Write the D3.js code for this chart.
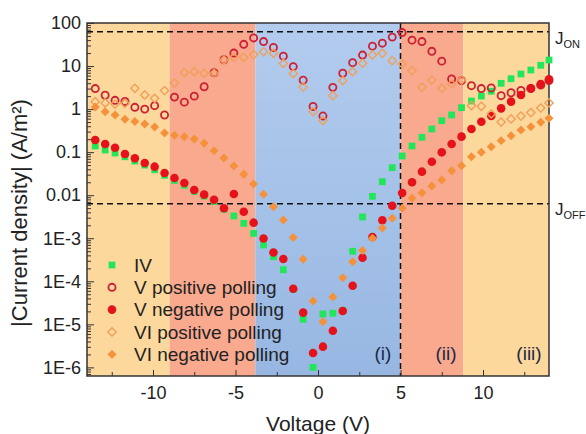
<!DOCTYPE html>
<html><head><meta charset="utf-8">
<script src="https://cdn.jsdelivr.net/npm/d3@7"></script>
<style>body{margin:0;background:#fff}svg{display:block;font-family:"Liberation Sans",Arial,sans-serif}</style>
</head><body><svg id="c" width="586" height="434"></svg>
<script>
const voltage = [-13.5,-12.9,-12.3,-11.7,-11.1,-10.5,-9.9,-9.3,-8.7,-8.1,-7.5,-6.9,-6.3,-5.7,-5.1,-4.5,-3.9,-3.3,-2.7,-2.1,-1.5,-0.9,-0.3,0.3,0.9,1.5,2.1,2.7,3.3,3.9,4.5,5.1,5.7,6.3,6.9,7.5,8.1,8.7,9.3,9.9,10.5,11.1,11.7,12.3,12.9,13.5,14.0];
const iv = [0.139,0.112,0.0955,0.078,0.0622,0.050,0.039,0.029,0.022,0.017,0.0122,0.0095,0.0072,0.0047,0.00329,0.00222,0.0013,0.000697,0.000372,0.000186,6.5e-5,1.31e-5,1.0e-6,1.74e-5,1.81e-5,2.1e-5,0.000498,0.00312,0.0094,0.0206,0.0436,0.0815,0.139,0.221,0.345,0.538,0.73,1.08,1.54,2.01,2.6,3.97,5.08,6.53,8.09,10.4,13.8];
const vPositive = [3.0,2.1,1.6,1.5,1.1,1.0,1.2,0.73,1.9,1.45,2.0,3.3,7.0,14,20,32,45,37,27,17,9.7,4.7,1.15,0.69,3.2,6.8,12,18,29,34,47,60,40,37,22,13,5.0,4.6,3.5,3.0,3.1,2.05,2.4,2.7,3.0,3.6,4.6];
const vNegative = [0.191,0.155,0.127,0.0905,0.072,0.056,0.046,0.0328,0.0251,0.0192,0.0132,0.0103,0.00786,0.00496,0.0107,0.00414,0.0023,0.00099,0.000467,0.00033,6.7e-5,1.87e-5,2.16e-6,3.03e-6,7.1e-6,2.04e-5,7.9e-5,3.53e-4,0.00107,0.00261,0.0057,0.01125,0.020,0.0352,0.060,0.099,0.155,0.229,0.345,0.51,0.69,1.04,1.49,2.13,3.04,3.83,4.92];
const viPositive = [1.49,1.39,1.31,1.36,3.04,2.13,1.78,2.70,4.04,7.0,7.4,6.8,6.8,13.8,16.0,16.0,18.5,21.5,19.8,11.5,6.7,3.26,0.87,0.54,2.05,4.57,7.4,11.6,18.1,19.8,13.3,11.2,7.8,3.2,4.74,3.04,3.83,4.74,1.21,1.16,0.77,0.50,0.59,0.69,0.83,1.06,1.39];
const viNegative = [1.12,0.87,0.73,0.58,0.515,0.45,0.384,0.279,0.246,0.229,0.202,0.161,0.108,0.0731,0.0477,0.0305,0.0182,0.0105,0.0054,0.00265,0.00104,0.000324,3.48e-5,1.15e-5,4.3e-5,0.000121,0.000285,0.000519,0.000997,0.00173,0.0029,0.00496,0.00848,0.0114,0.0164,0.0226,0.0371,0.0484,0.0783,0.099,0.134,0.185,0.241,0.327,0.39,0.493,0.61];
const seriesNames = ["IV","V positive polling","V negative polling","VI positive polling","VI negative polling"];
const xTicks = [-10,-5,0,5,10];
const yTickValues = [1e-6,1e-5,1e-4,1e-3,0.01,0.1,1,10,100];
const yTickLabels = ["1E-6","1E-5","1E-4","1E-3","0.01","0.1","1","10","100"];
const regionBounds = [-14,-9,-3.8,5,8.8,14];
const regionNames = ["(i)","(ii)","(iii)"];
const jOn = 63, jOff = 0.0063;

const svg = d3.select("#c");
const L=87,R=549,T=23,B=376;
const x = d3.scaleLinear().domain([-14,14]).range([L,R]);
const y = d3.scaleLog().domain([Math.pow(10,-6.2),100]).range([B,T]);

const defs = svg.append("defs");
const gb = defs.append("linearGradient").attr("id","gBlue").attr("x1",0).attr("x2",0).attr("y1",0).attr("y2",1);
gb.append("stop").attr("offset","0%").attr("stop-color","#b3ccee");
gb.append("stop").attr("offset","100%").attr("stop-color","#97b7e2");
const regionFill = ["#fdd89c","#f9a98e","url(#gBlue)","#f9a98e","#fdd89c"];
svg.append("g").selectAll("rect").data(d3.range(5)).join("rect")
  .attr("x",i=>x(regionBounds[i])).attr("width",i=>x(regionBounds[i+1])-x(regionBounds[i]))
  .attr("y",T).attr("height",B-T).attr("fill",i=>regionFill[i]);

// dashed lines
const dash = svg.append("g").attr("stroke","#111").attr("stroke-width",1.5).attr("stroke-dasharray","6,4").attr("fill","none");
dash.append("line").attr("x1",L).attr("x2",R).attr("y1",y(jOn)).attr("y2",y(jOn));
dash.append("line").attr("x1",L).attr("x2",R).attr("y1",y(jOff)).attr("y2",y(jOff));
dash.append("line").attr("x1",x(5)).attr("x2",x(5)).attr("y1",T).attr("y2",B);

// axes
const xAxis = d3.axisBottom(x).tickValues(d3.range(-12.5,14,2.5)).tickSize(-5).tickFormat(d=>xTicks.includes(d)?d:"");
const gx = svg.append("g").attr("transform",`translate(0,${B})`).call(xAxis);
gx.selectAll(".tick line").attr("y2",d=>xTicks.includes(d)?-6:-4).attr("stroke","#333");
gx.select(".domain").remove();
gx.selectAll("text").attr("font-size",18).attr("fill","#222").attr("y",10).attr("dy","0.71em").attr("font-family","Liberation Sans, Arial, sans-serif");

const minor=[];
for(let e=-7;e<=2;e++) for(let m=1;m<10;m++){const v=m*Math.pow(10,e); if(v>=Math.pow(10,-6.2)&&v<=100.0001) minor.push(v);}
const isMajor = d=>yTickValues.some(t=>Math.abs(t-d)/t<1e-6);
const yAxis = d3.axisLeft(y).tickValues(minor).tickSize(-4).tickFormat(d=>{const i=yTickValues.findIndex(t=>Math.abs(t-d)/t<1e-6);return i>=0?yTickLabels[i]:"";});
const gy = svg.append("g").attr("transform",`translate(${L},0)`).call(yAxis);
gy.selectAll(".tick line").attr("x2",d=>isMajor(d)?7:4).attr("stroke","#333");
gy.select(".domain").remove();
gy.selectAll("text").attr("font-size",18).attr("fill","#222").attr("x",-6).attr("font-family","Liberation Sans, Arial, sans-serif");

svg.append("rect").attr("x",L).attr("y",T).attr("width",R-L).attr("height",B-T).attr("fill","none").attr("stroke","#333").attr("stroke-width",1.5);

// markers
const sym = {
  sq: d3.symbol().type(d3.symbolSquare).size(46),
  ci: d3.symbol().type(d3.symbolCircle).size(40),
  cf: d3.symbol().type(d3.symbolCircle).size(58),
  di: d3.symbol().type(d3.symbolSquare).size(34),
  df: d3.symbol().type(d3.symbolSquare).size(40)
};
const styles = [
  {data:iv, s:sym.sq, rot:0, fill:"#22e65a", stroke:"none", sw:0},
  {data:vPositive, s:sym.ci, rot:0, fill:"none", stroke:"#cc2035", sw:1.8},
  {data:vNegative, s:sym.cf, rot:0, fill:"#e5121b", stroke:"none", sw:0},
  {data:viPositive, s:sym.di, rot:45, fill:"none", stroke:"#f0a058", sw:1.4},
  {data:viNegative, s:sym.df, rot:45, fill:"#f4913a", stroke:"none", sw:0}
];
styles.forEach(st=>{
  svg.append("g").selectAll("path").data(voltage.map((v,i)=>[v,st.data[i]])).join("path")
    .attr("transform",d=>`translate(${x(d[0])},${y(d[1])}) rotate(${st.rot})`)
    .attr("d",st.s).attr("fill",st.fill).attr("stroke",st.stroke).attr("stroke-width",st.sw);
});

// legend
const lg = svg.append("g");
styles.forEach((st,i)=>{
  const yy = 265 + i*22.3;
  lg.append("path").attr("transform",`translate(112,${yy}) rotate(${st.rot})`).attr("d",st.s).attr("fill",st.fill).attr("stroke",st.stroke).attr("stroke-width",st.sw);
  lg.append("text").attr("x",134).attr("y",yy).attr("dy","0.35em").attr("font-size",19).attr("fill","#222").text(seriesNames[i]);
});

// region labels
const regionX=[383,446,529];
regionNames.forEach((n,i)=>svg.append("text").attr("x",regionX[i]).attr("y",353).attr("dy","0.35em").attr("text-anchor","middle").attr("font-size",19).attr("fill","#1c2a48").text(n));

// J labels
function jLabel(yy,sub){
  const t=svg.append("text").attr("x",555).attr("y",yy).attr("font-size",17).attr("fill","#222");
  t.append("tspan").text("J");
  t.append("tspan").attr("font-size",11).attr("dy",4).text(sub);
}
jLabel(y(jOn)+12,"ON");
jLabel(y(jOff)+11,"OFF");

// axis titles
svg.append("text").attr("x",318).attr("y",431).attr("text-anchor","middle").attr("font-size",21).attr("fill","#222").text("Voltage (V)");
svg.append("text").attr("transform","translate(27,213) rotate(-90)").attr("text-anchor","middle").attr("font-size",22).attr("fill","#222").text("|Current density| (A/m²)");
</script></body></html>
